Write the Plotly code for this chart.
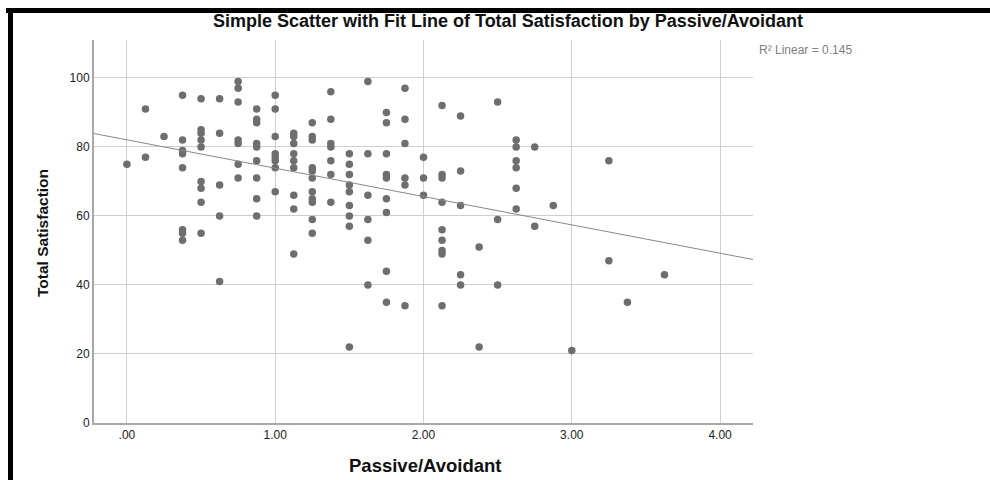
import numpy as np
import plotly.graph_objects as go

# Passive/Avoidant score -> observed Total Satisfaction values
pa_levels = [0.0, 0.125, 0.25, 0.375, 0.5, 0.625, 0.75, 0.875, 1.0, 1.125,
             1.25, 1.375, 1.5, 1.625, 1.75, 1.875, 2.0, 2.125, 2.25, 2.375,
             2.5, 2.625, 2.75, 2.875, 3.0, 3.25, 3.375, 3.625]
satisfaction = [
    [75],
    [91, 77],
    [83],
    [95, 82, 79, 78, 74, 56, 55, 53],
    [94, 85, 84, 82, 80, 70, 68, 64, 55],
    [94, 84, 69, 60, 41],
    [99, 97, 93, 82, 81, 75, 71],
    [91, 88, 87, 81, 80, 76, 71, 65, 60],
    [95, 91, 83, 78, 77, 76, 74, 67],
    [84, 83, 81, 78, 76, 74, 66, 62, 49],
    [87, 83, 82, 74, 73, 71, 67, 65, 64, 59, 55],
    [96, 88, 81, 80, 76, 72, 64],
    [78, 75, 72, 69, 67, 63, 60, 57, 22],
    [99, 78, 66, 59, 53, 40],
    [90, 87, 78, 72, 71, 65, 61, 44, 35],
    [97, 88, 81, 71, 69, 34],
    [77, 71, 66],
    [92, 72, 71, 64, 56, 53, 50, 49, 34],
    [89, 73, 63, 43, 40],
    [51, 22],
    [93, 59, 40],
    [82, 80, 76, 74, 68, 62],
    [80, 57],
    [63],
    [21],
    [76, 47],
    [35],
    [43],
]

x_tick_vals = [0, 1, 2, 3, 4]
x_tick_text = [".00", "1.00", "2.00", "3.00", "4.00"]
y_tick_vals = [0, 20, 40, 60, 80, 100]
r2_label = "R\u00b2 Linear = 0.145"

xs = []
ys = []
for lvl, vals in zip(pa_levels, satisfaction):
    for v in vals:
        xs.append(lvl)
        ys.append(v)
xs = np.array(xs)
ys = np.array(ys)

slope, intercept = np.polyfit(xs, ys, 1)
x_range = [-0.222, 4.222]
fit_x = np.array(x_range)
fit_y = intercept + slope * fit_x

W, H = 990, 480
L, R, T, B = 94, 237, 40, 57
pw, ph = W - L - R, H - T - B

fig = go.Figure()
fig.add_trace(go.Scatter(x=xs, y=ys, mode="markers",
                         marker=dict(color="#6e6e6e", size=7.5, line=dict(width=0)),
                         hoverinfo="x+y", showlegend=False))
fig.add_trace(go.Scatter(x=fit_x, y=fit_y, mode="lines",
                         line=dict(color="#888888", width=1),
                         hoverinfo="skip", showlegend=False))

font_family = "Liberation Sans, Arial, sans-serif"


def px2paper_x(p):
    return (p - L) / pw


def py2paper_y(p):
    return (H - B - p) / ph


fig.update_layout(
    width=W, height=H,
    margin=dict(l=L, r=R, t=T, b=B, autoexpand=False),
    paper_bgcolor="white", plot_bgcolor="white",
    font=dict(family=font_family, color="#222222"),
    title=dict(text="<b>Simple Scatter with Fit Line of Total Satisfaction by Passive/Avoidant</b>",
               x=508 / W, xanchor="center", y=1 - 20.5 / H, yanchor="middle", yref="container",
               font=dict(size=18, color="#111111")),
    xaxis=dict(range=x_range, tickvals=x_tick_vals, ticktext=x_tick_text,
               showgrid=True, gridcolor="#cfcfcf", gridwidth=1,
               showline=True, linecolor="#a8a8a8", linewidth=2,
               zeroline=False, ticks="", automargin=False,
               tickfont=dict(size=12, color="#222222")),
    yaxis=dict(range=[0, 111], tickvals=y_tick_vals,
               showgrid=True, gridcolor="#cfcfcf", gridwidth=1,
               showline=True, linecolor="#a8a8a8", linewidth=2,
               zeroline=False, ticks="", automargin=False,
               tickfont=dict(size=12, color="#222222")),
    shapes=[
        dict(type="line", xref="paper", yref="paper",
             x0=px2paper_x(6), x1=px2paper_x(W + 5), y0=py2paper_y(10.5), y1=py2paper_y(10.5),
             line=dict(color="black", width=5)),
        dict(type="line", xref="paper", yref="paper",
             x0=px2paper_x(10.5), x1=px2paper_x(10.5), y0=py2paper_y(8), y1=py2paper_y(H + 5),
             line=dict(color="black", width=5)),
    ],
    annotations=[
        dict(text=r2_label, xref="paper", yref="paper", x=px2paper_x(757), y=py2paper_y(50),
             xanchor="left", yanchor="middle", showarrow=False,
             font=dict(size=12, color="#808080")),
        dict(text="<b>Passive/Avoidant</b>", xref="paper", yref="paper",
             x=px2paper_x(425), y=py2paper_y(465), xanchor="center", yanchor="middle",
             showarrow=False, font=dict(size=18.5, color="#111111")),
        dict(text="<b>Total Satisfaction</b>", xref="paper", yref="paper",
             x=px2paper_x(42), y=py2paper_y(233), xanchor="center", yanchor="middle",
             textangle=-90, showarrow=False, font=dict(size=15.5, color="#111111")),
    ],
)

fig.write_html("out.html", config={"displayModeBar": False},
               post_script="document.body.style.margin='0px';"
                           "document.body.style.overflow='hidden';")
